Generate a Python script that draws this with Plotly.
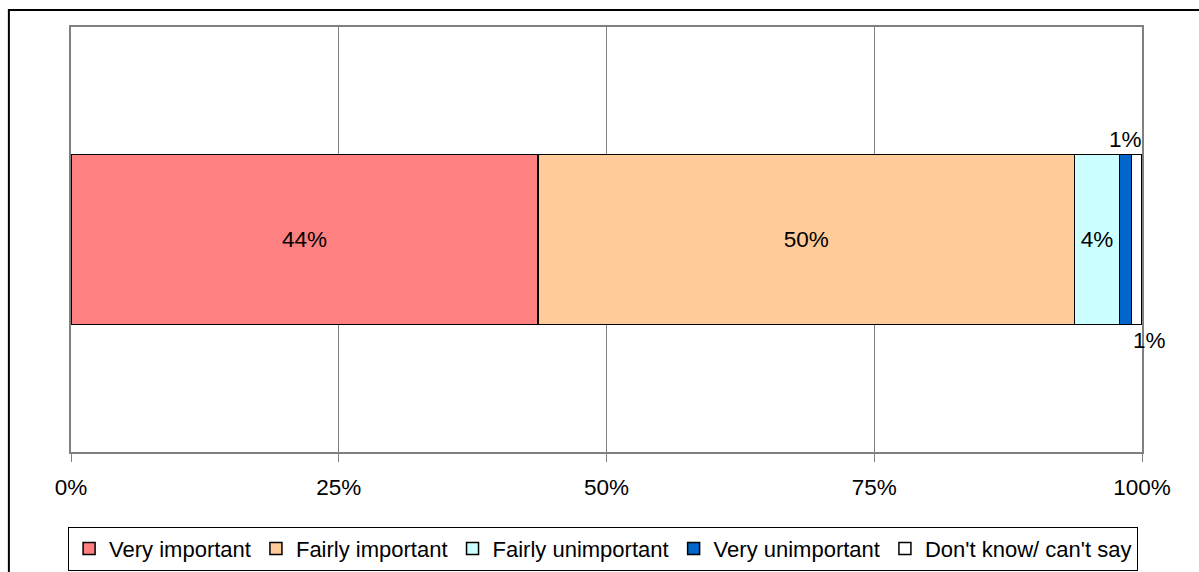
import plotly.graph_objects as go

# Survey responses (share of respondents, %)
categories = ["Very important", "Fairly important", "Fairly unimportant",
              "Very unimportant", "Don't know/ can't say"]
values = [43.6, 50.1, 4.2, 1.1, 1.0]
labels = ["44%", "50%", "4%", "1%", "1%"]
colors = ["#FF8080", "#FFCC99", "#CCFFFF", "#0066CC", "#FFFFFF"]
tick_vals = [0, 25, 50, 75, 100]
tick_text = ["0%", "25%", "50%", "75%", "100%"]

FONT = "Liberation Sans, Arial, sans-serif"
FS = 22.5
FS_LEGEND = 22

fig = go.Figure()
row = [""]
for i, (name, v, lab, c) in enumerate(zip(categories, values, labels, colors)):
    inside = i < 3
    fig.add_trace(go.Bar(
        name=name, x=[v], y=row, orientation="h",
        marker=dict(color=c, line=dict(color="#000000", width=1.5)),
        text=[lab] if inside else None,
        textposition="inside" if inside else "none",
        insidetextanchor="middle",
        constraintext="none",
        textfont=dict(family=FONT, size=FS, color="#000000"),
        hoverinfo="skip",
    ))

# small segments get their labels outside the bar
start_last = sum(values[:4])
start_blue = sum(values[:3])
fig.add_annotation(x=start_blue + values[3] / 2, y=0.2, xref="x", yref="y",
                   text=labels[3], showarrow=False, yanchor="bottom", yshift=1,
                   font=dict(family=FONT, size=FS, color="#000000"))
fig.add_annotation(x=start_last, y=-0.2, xref="x", yref="y",
                   text=labels[4], showarrow=False, yanchor="top", xanchor="left",
                   yshift=-1,
                   font=dict(family=FONT, size=FS, color="#000000"))

# outer frame of the chart
fig.add_shape(type="rect", xref="paper", yref="paper",
              x0=-0.058, x1=1.2, y0=-0.6, y1=1.04,
              line=dict(color="#000000", width=2), fillcolor="rgba(0,0,0,0)",
              layer="below")

fig.update_layout(
    width=1199, height=572,
    margin=dict(l=71, r=57, t=27, b=120, autoexpand=False),
    paper_bgcolor="#FFFFFF", plot_bgcolor="#FFFFFF",
    barmode="stack", bargap=0.6,
    font=dict(family=FONT, size=FS, color="#000000"),
    showlegend=True,
    legend=dict(
        orientation="h", xref="container", yref="container",
        x=0.503, xanchor="center", y=0.079, yanchor="top",
        bordercolor="#000000", borderwidth=1, bgcolor="#FFFFFF",
        font=dict(family=FONT, size=FS_LEGEND, color="#000000"),
        traceorder="normal", itemclick=False, itemdoubleclick=False,
        itemwidth=30,
    ),
    xaxis=dict(
        range=[0, 100], tickvals=tick_vals, ticktext=tick_text,
        showgrid=True, gridcolor="#808080", gridwidth=1,
        showline=True, linecolor="#808080", linewidth=2, mirror=True,
        ticks="outside", ticklen=8, tickcolor="#808080", tickwidth=1,
        ticklabelstandoff=6, zeroline=False, fixedrange=True,
    ),
    yaxis=dict(
        range=[-0.5, 0.5], showticklabels=False, ticks="",
        showgrid=False, zeroline=False,
        showline=True, linecolor="#808080", linewidth=2, mirror=True,
        fixedrange=True,
    ),
)

fig.write_html("out.html")
